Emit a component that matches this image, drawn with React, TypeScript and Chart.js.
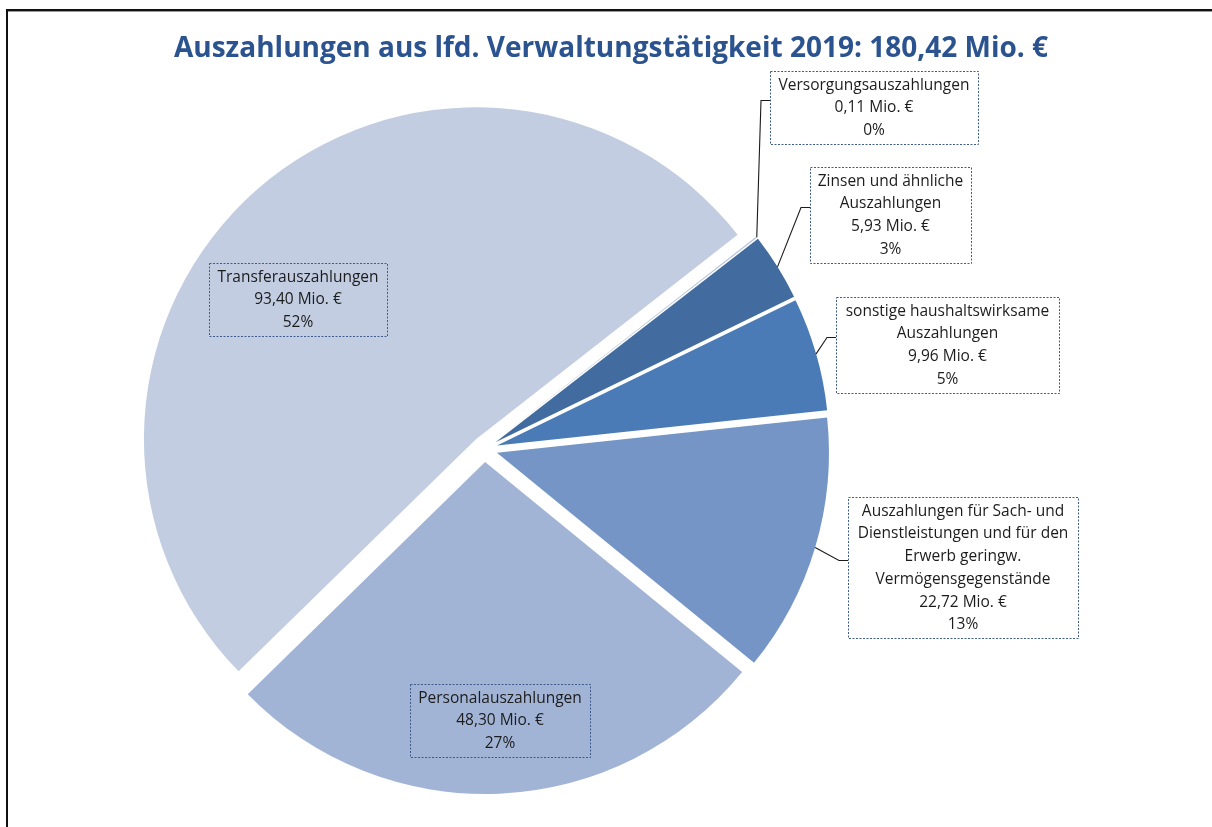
import React, { useEffect, useRef } from 'react';
import { Chart, registerables } from 'chart.js';

Chart.register(...registerables);

// ---------- data ----------
const titleText = 'Auszahlungen aus lfd. Verwaltungstätigkeit 2019: 180,42 Mio. €';

const categories = [
  'Versorgungsauszahlungen',
  'Zinsen und ähnliche Auszahlungen',
  'sonstige haushaltswirksame Auszahlungen',
  'Auszahlungen für Sach- und Dienstleistungen und für den Erwerb geringw. Vermögensgegenstände',
  'Personalauszahlungen',
  'Transferauszahlungen',
];

const nameLines = [
  ['Versorgungsauszahlungen'],
  ['Zinsen und ähnliche', 'Auszahlungen'],
  ['sonstige haushaltswirksame', 'Auszahlungen'],
  ['Auszahlungen für Sach- und', 'Dienstleistungen und für den', 'Erwerb geringw.', 'Vermögensgegenstände'],
  ['Personalauszahlungen'],
  ['Transferauszahlungen'],
];

const values = [0.11, 5.93, 9.96, 22.72, 48.3, 93.4];
const percentLabels = ['0%', '3%', '5%', '13%', '27%', '52%'];

// ---------- styles / layout ----------
const colors = ['#B3C2DE', '#426C9F', '#4A7BB7', '#7495C6', '#A2B4D6', '#C2CDE2'];
const labelBoxes = [
  { left: 770, top: 71, width: 208, leader: true },
  { left: 810, top: 167, width: 161, leader: true },
  { left: 836, top: 297, width: 223, leader: true },
  { left: 848, top: 497, width: 230, leader: true },
  { left: 410, top: 684, width: 180, leader: false },
  { left: 209, top: 263, width: 178, leader: false },
];
const LABEL_FONT = '15.5px "Open Sans"';
const TITLE_FONT = 'bold 28px "Open Sans"';
const LINE_H = 22.7;

const fmtValue = (v: number) => v.toFixed(2).replace('.', ',') + ' Mio. €';

const explodePlugin = {
  id: 'explode',
  afterDatasetUpdate(chart: any, args: any, opts: any) {
    const d = opts.distance || 0;
    args.meta.data.forEach((arc: any) => {
      const mid = (arc.startAngle + arc.endAngle) / 2;
      arc.x += Math.cos(mid) * d;
      arc.y += Math.sin(mid) * d;
    });
  },
};

const framePlugin = {
  id: 'frame',
  beforeDraw(chart: any) {
    const ctx = chart.ctx;
    ctx.save();
    ctx.fillStyle = '#ffffff';
    ctx.fillRect(0, 0, chart.width, chart.height);
    ctx.fillStyle = '#111111';
    ctx.fillRect(6, 9, chart.width - 6, 2);
    ctx.fillRect(6, 9, 2, chart.height - 9);
    ctx.fillStyle = '#9a9a9a';
    ctx.fillRect(8, 11, chart.width - 8, 1);
    ctx.restore();
  },
  afterDraw(chart: any) {
    const ctx = chart.ctx;
    ctx.save();
    ctx.font = TITLE_FONT;
    ctx.fillStyle = '#2B5390';
    ctx.textAlign = 'center';
    ctx.textBaseline = 'alphabetic';
    ctx.fillText(titleText, 611, 57);
    ctx.restore();
  },
};

const labelPlugin = {
  id: 'pieLabels',
  afterDatasetsDraw(chart: any) {
    const ctx = chart.ctx;
    const meta = chart.getDatasetMeta(0);
    ctx.save();
    ctx.font = LABEL_FONT;
    meta.data.forEach((arc: any, i: number) => {
      const box = labelBoxes[i];
      const lines = [...nameLines[i], fmtValue(values[i]), percentLabels[i]];
      let maxW = 0;
      lines.forEach((t) => (maxW = Math.max(maxW, ctx.measureText(t).width)));
      const w = Math.max(box.width, Math.ceil(maxW + 8));
      const h = lines.length * LINE_H + 5;
      const cx = box.left + box.width / 2;
      const left = Math.round(cx - w / 2);
      const top = box.top;

      if (box.leader) {
        const mid = (arc.startAngle + arc.endAngle) / 2;
        const ax = arc.x + Math.cos(mid) * arc.outerRadius;
        const ay = arc.y + Math.sin(mid) * arc.outerRadius;
        const ey = Math.round(top + h / 2 - 8) + 0.5;
        const ex = left - 9;
        ctx.beginPath();
        ctx.setLineDash([]);
        ctx.strokeStyle = '#1a1a1a';
        ctx.lineWidth = 1.1;
        ctx.moveTo(ax, ay);
        ctx.lineTo(ex, ey);
        ctx.lineTo(left, ey);
        ctx.stroke();
      }

      ctx.setLineDash([2, 1.5]);
      ctx.strokeStyle = '#3F5C8C';
      ctx.lineWidth = 1;
      ctx.strokeRect(left + 0.5, Math.round(top) + 0.5, w, Math.round(h));

      ctx.fillStyle = '#1c1c1c';
      ctx.textAlign = 'center';
      ctx.textBaseline = 'middle';
      lines.forEach((t, k) => {
        ctx.fillText(t, cx, top + 3 + LINE_H * (k + 0.5));
      });
    });
    ctx.restore();
  },
};

export default function App() {
  const ref = useRef<HTMLCanvasElement | null>(null);

  useEffect(() => {
    document.body.style.margin = '0';
    if (!ref.current) return;
    const chart = new Chart(ref.current, {
      type: 'pie',
      data: {
        labels: categories,
        datasets: [
          {
            data: values,
            backgroundColor: colors,
            borderWidth: 0,
            hoverOffset: 0,
          },
        ],
      },
      options: {
        responsive: false,
        animation: false,
        rotation: 52,
        radius: 332,
        layout: { padding: { left: 0, right: 243, top: 71, bottom: 0 } },
        plugins: {
          legend: { display: false },
          tooltip: { enabled: false },
          title: { display: false },
          explode: { distance: 13 },
        } as any,
      },
      plugins: [framePlugin, explodePlugin, labelPlugin],
    });
    return () => chart.destroy();
  }, []);

  return (
    <div style={{ width: 1212, height: 827, position: 'relative' }}>
      <canvas ref={ref} width={1212} height={827} style={{ display: 'block' }} />
    </div>
  );
}
